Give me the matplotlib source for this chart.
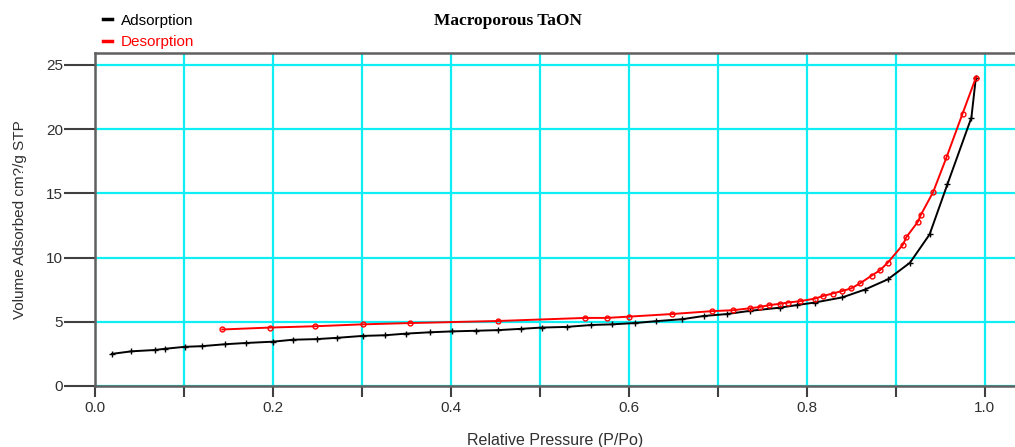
import matplotlib
matplotlib.use('Agg')
import matplotlib.pyplot as plt
from matplotlib.ticker import MultipleLocator

# isotherm data
ads_p = [0.019, 0.041, 0.067, 0.079, 0.101, 0.120, 0.146, 0.170, 0.200, 0.222,
         0.249, 0.272, 0.301, 0.326, 0.350, 0.376, 0.401, 0.428, 0.453, 0.479,
         0.502, 0.530, 0.558, 0.581, 0.607, 0.631, 0.660, 0.684, 0.710, 0.736,
         0.770, 0.789, 0.809, 0.840, 0.865, 0.891, 0.916, 0.938, 0.958, 0.985, 0.990]
ads_v = [2.5, 2.7, 2.8, 2.9, 3.05, 3.1, 3.25, 3.35, 3.45, 3.6,
         3.65, 3.75, 3.9, 3.95, 4.08, 4.18, 4.25, 4.3, 4.35, 4.45,
         4.55, 4.6, 4.75, 4.8, 4.9, 5.05, 5.2, 5.45, 5.6, 5.85,
         6.1, 6.3, 6.5, 6.9, 7.5, 8.3, 9.6, 11.8, 15.7, 20.9, 24.0]

des_p = [0.143, 0.197, 0.247, 0.301, 0.354, 0.453, 0.551, 0.575, 0.600, 0.648,
         0.694, 0.717, 0.736, 0.747, 0.758, 0.770, 0.779, 0.792, 0.809, 0.818,
         0.829, 0.840, 0.850, 0.860, 0.873, 0.882, 0.891, 0.908, 0.912, 0.925,
         0.928, 0.942, 0.957, 0.975, 0.990]
des_v = [4.4, 4.55, 4.65, 4.8, 4.9, 5.06, 5.3, 5.3, 5.4, 5.6,
         5.83, 5.9, 6.05, 6.15, 6.3, 6.4, 6.5, 6.6, 6.8, 7.0,
         7.2, 7.4, 7.6, 8.0, 8.6, 9.0, 9.6, 11.0, 11.6, 12.8,
         13.3, 15.1, 17.8, 21.2, 24.0]

sans = ['Liberation Sans', 'DejaVu Sans']
plt.rcParams['font.family'] = sans

fig = plt.figure(figsize=(10.15, 4.47), dpi=100)
ax = fig.add_axes([0.0936, 0.1365, 0.9064, 0.745])

ax.plot(ads_p, ads_v, color='black', lw=1.4, marker='+', ms=5, mew=1.0,
        label='Adsorption', zorder=3)
ax.plot(des_p, des_v, color='red', lw=1.4, marker='o', ms=3.5, mfc='none',
        mew=1.0, label='Desorption', zorder=4)

ax.set_xlim(0, 1.034)
ax.set_ylim(0, 25.93)

ax.xaxis.set_major_locator(MultipleLocator(0.2))
ax.xaxis.set_minor_locator(MultipleLocator(0.1))
ax.yaxis.set_major_locator(MultipleLocator(5))
ax.xaxis.set_major_formatter(plt.FuncFormatter(lambda v, p: f'{v:.1f}'))

ax.grid(True, which='both', axis='x', color='#10eef5', lw=1.6, zorder=1)
ax.grid(True, which='major', axis='y', color='#10eef5', lw=1.6, zorder=1)
ax.set_axisbelow(True)

for side in ['left', 'bottom', 'top']:
    ax.spines[side].set_color('#606060')
    ax.spines[side].set_linewidth(1.8)
ax.spines['right'].set_visible(False)

ax.tick_params(axis='x', which='both', length=8, width=1.5, color='#404040',
               labelsize=11, pad=3, labelcolor='#303030')
ax.tick_params(axis='y', length=22, width=1.5, color='#404040',
               labelsize=11, pad=1, labelcolor='#303030')

ax.set_xlabel('Relative Pressure (P/Po)', fontsize=11.5, color='#303030', labelpad=13)
ax.set_ylabel('Volume Adsorbed cm?/g STP', fontsize=11, color='#303030', labelpad=14)

fig.text(0.5, 0.953, 'Macroporous TaON', ha='center', va='center',
         fontsize=12.5, fontweight='bold', family=['Liberation Serif', 'DejaVu Serif'])

leg = fig.legend(loc='upper left', bbox_to_anchor=(0.092, 0.99), frameon=False,
                 handlelength=0.6, handletextpad=0.6, labelspacing=0.5,
                 fontsize=11, labelcolor=['black', 'red'], borderaxespad=0.2)
for h in leg.legend_handles:
    h.set_marker('')
    h.set_linewidth(2.5)

fig.savefig('out.png', dpi=100)
